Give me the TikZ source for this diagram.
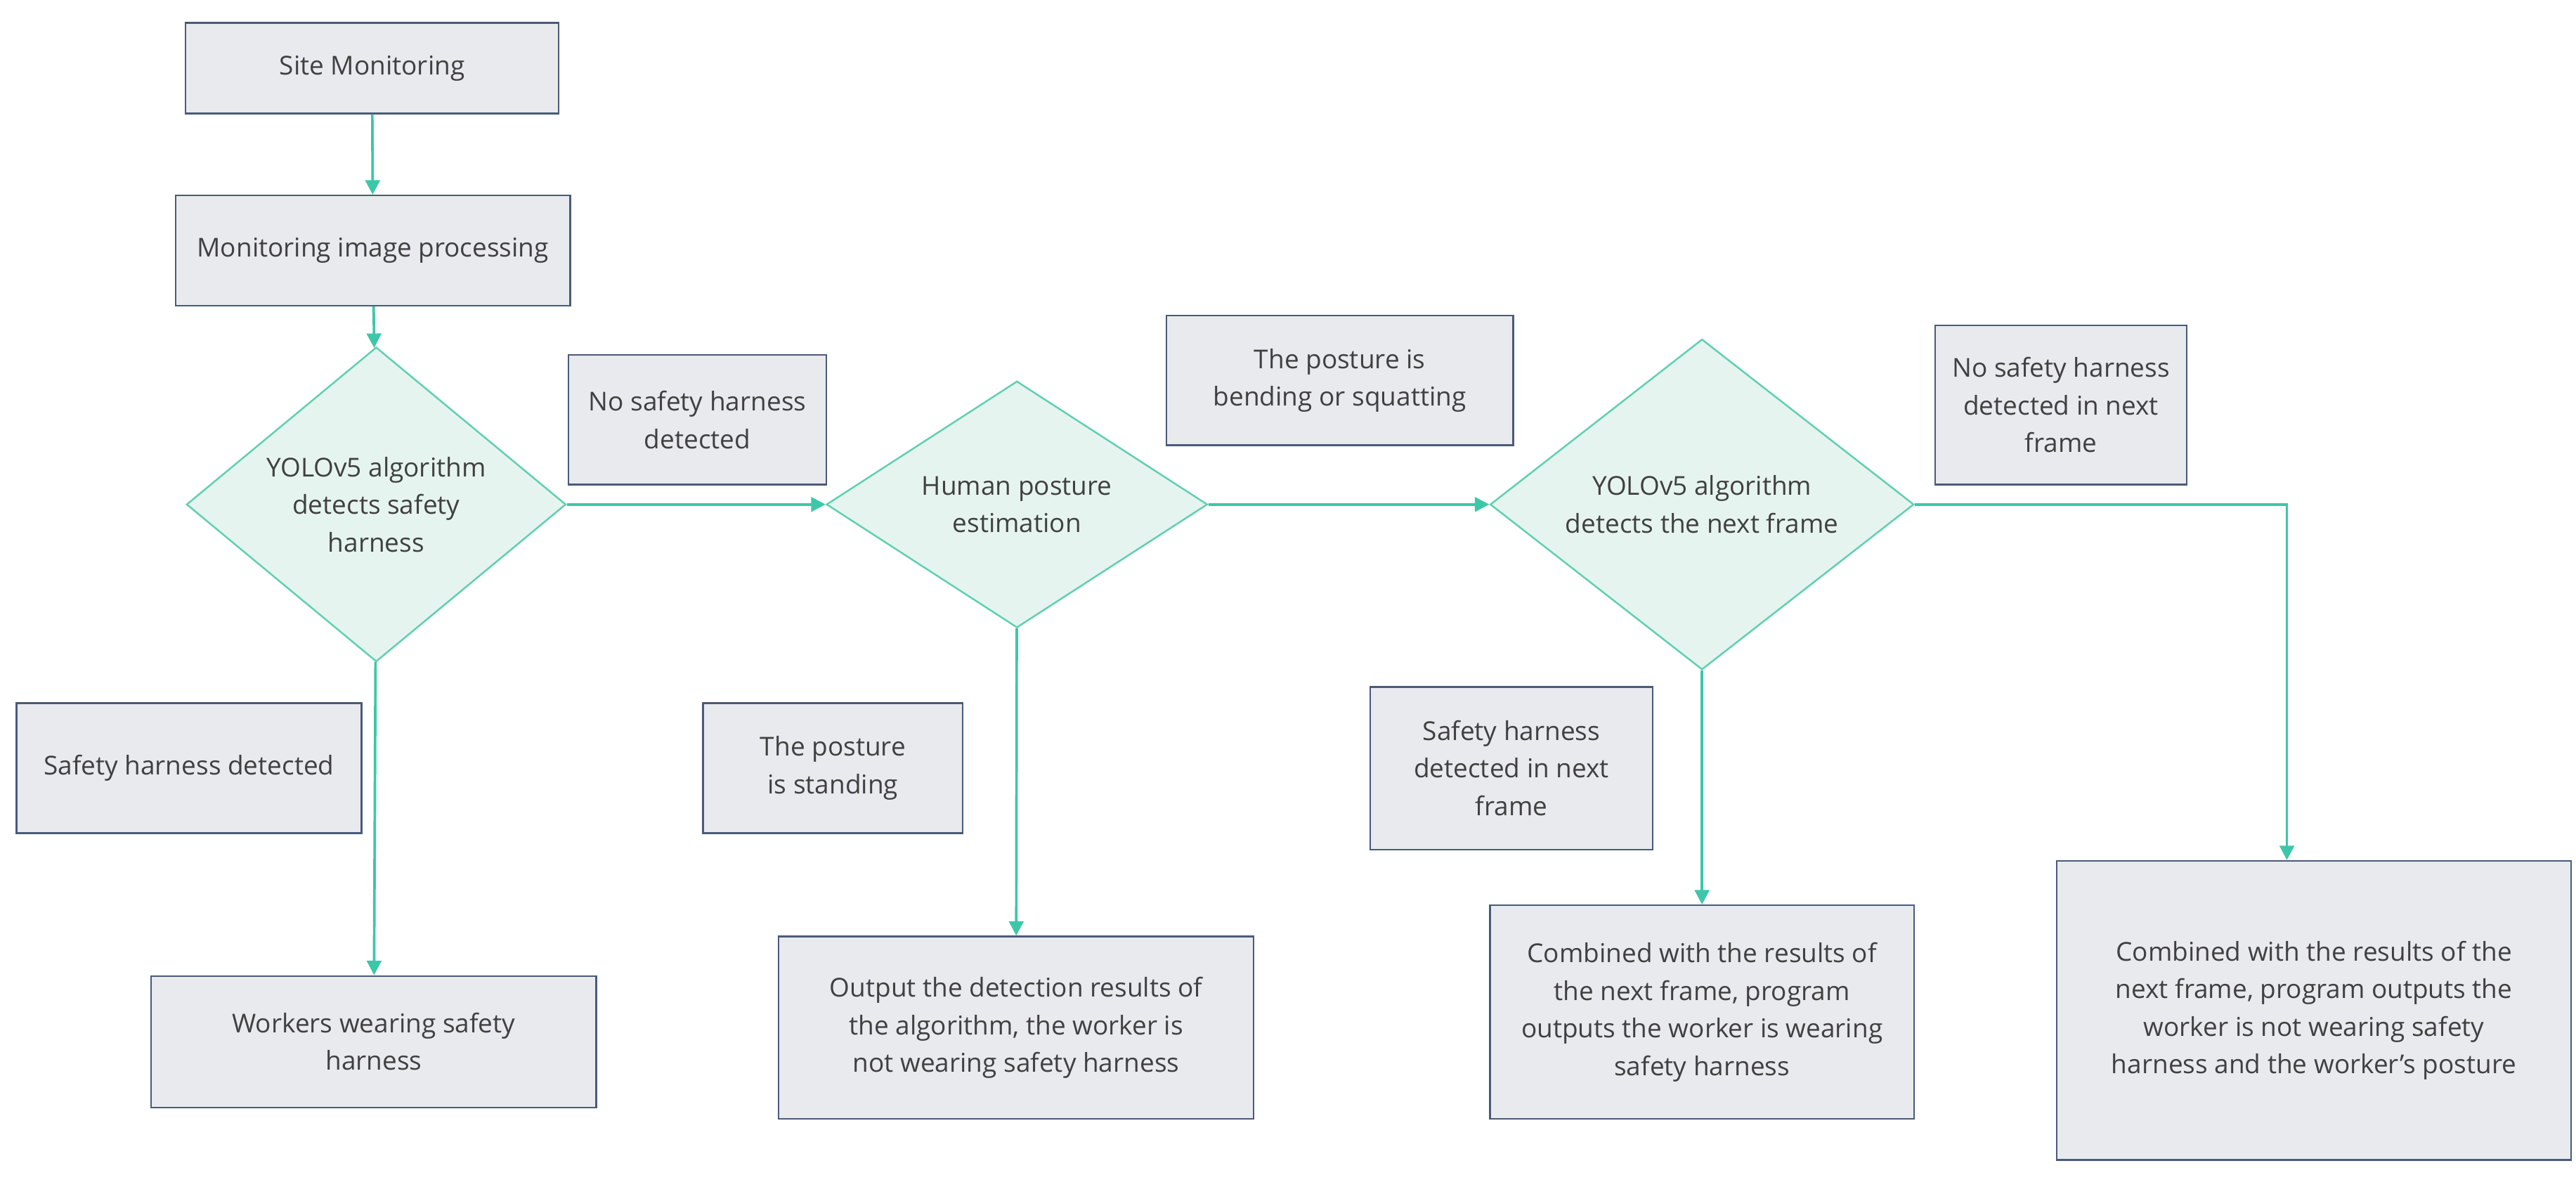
\documentclass[tikz,border=0pt]{standalone}
\usepackage{fontspec}
\setmainfont{Open Sans}
\usetikzlibrary{shapes.geometric,arrows.meta}
\definecolor{boxfill}{HTML}{E8EAEE}
\definecolor{boxline}{HTML}{4A5A7A}
\definecolor{dfill}{HTML}{E6F4EF}
\definecolor{dline}{HTML}{5FD0B0}
\definecolor{flowc}{HTML}{3CC8A8}
\tikzset{
  procbox/.style={draw=boxline,fill=boxfill,line width=0.6pt,align=center,
    font=\fontsize{9}{13}\selectfont,text=black!75,inner sep=0pt},
  test/.style={diamond,draw=dline,fill=dfill,line width=0.6pt,align=center,
    font=\fontsize{9}{13}\selectfont,text=black!75,inner sep=0pt},
  flow/.style={draw=flowc,line width=0.9pt,-{Triangle[length=5pt,width=5pt]}}
}
\newcommand{\stepbox}[6]{% name, x1, y1, x2, y2, text
  \node[procbox,minimum width={(#4-#2)*0.02cm},minimum height={(#5-#3)*0.02cm}]
    (#1) at ({(#2+#4)/2},{(#3+#5)/2}) {#6};}
\begin{document}
\begin{tikzpicture}[x=0.02cm,y=-0.02cm]
  \useasboundingbox (0,0) rectangle (1568,722);
  % boxes
  \stepbox{site}{113}{14}{340}{69}{Site Monitoring}
  \stepbox{proc}{107}{119}{347}{186}{Monitoring image processing}
  \stepbox{nohar}{346}{216}{503}{295}{No safety harness\\detected}
  \stepbox{bend}{710}{192}{921}{271}{The posture is\\bending or squatting}
  \stepbox{nonext}{1178}{198}{1331}{295}{No safety harness\\detected in next\\frame}
  \stepbox{har}{10}{428}{220}{507}{Safety harness detected}
  \stepbox{stand}{428}{428}{586}{507}{The posture\\is standing}
  \stepbox{harnext}{834}{418}{1006}{517}{Safety harness\\detected in next\\frame}
  \stepbox{wear}{92}{594}{363}{674}{Workers wearing safety\\harness}
  \stepbox{out}{474}{570}{763}{681}{Output the detection results of\\the algorithm, the worker is\\not wearing safety harness}
  \stepbox{comb}{907}{551}{1165}{681}{Combined with the results of\\the next frame, program\\outputs the worker is wearing\\safety harness}
  \stepbox{combno}{1252}{524}{1565}{706}{Combined with the results of the\\next frame, program outputs the\\worker is not wearing safety\\harness and the worker's posture}
  % decisions
  \node[test,minimum width=4.62cm,minimum height=2.72cm] (yolo) at (229,307) {YOLOv5 algorithm\\detects safety\\harness};
  \node[test,minimum width=4.64cm,minimum height=2.76cm] (pose) at (619,307) {Human posture\\estimation};
  \node[test,minimum width=5.16cm,minimum height=3.04cm] (next) at (1036,307) {YOLOv5 algorithm\\detects the next frame};
  \coordinate (turn) at (1392,307);
  % connectors
  \draw[flow] (site) -- (proc);
  \draw[flow] (proc) -- (yolo);
  \draw[flow] (yolo) -- (pose);
  \draw[flow] (pose) -- (next);
  \draw[flow] (yolo) -- (wear);
  \draw[flow] (pose) -- (out);
  \draw[flow] (next) -- (comb);
  \draw[flow] (next.east) -- (turn) -- (turn |- combno.north);
\end{tikzpicture}
\end{document}
